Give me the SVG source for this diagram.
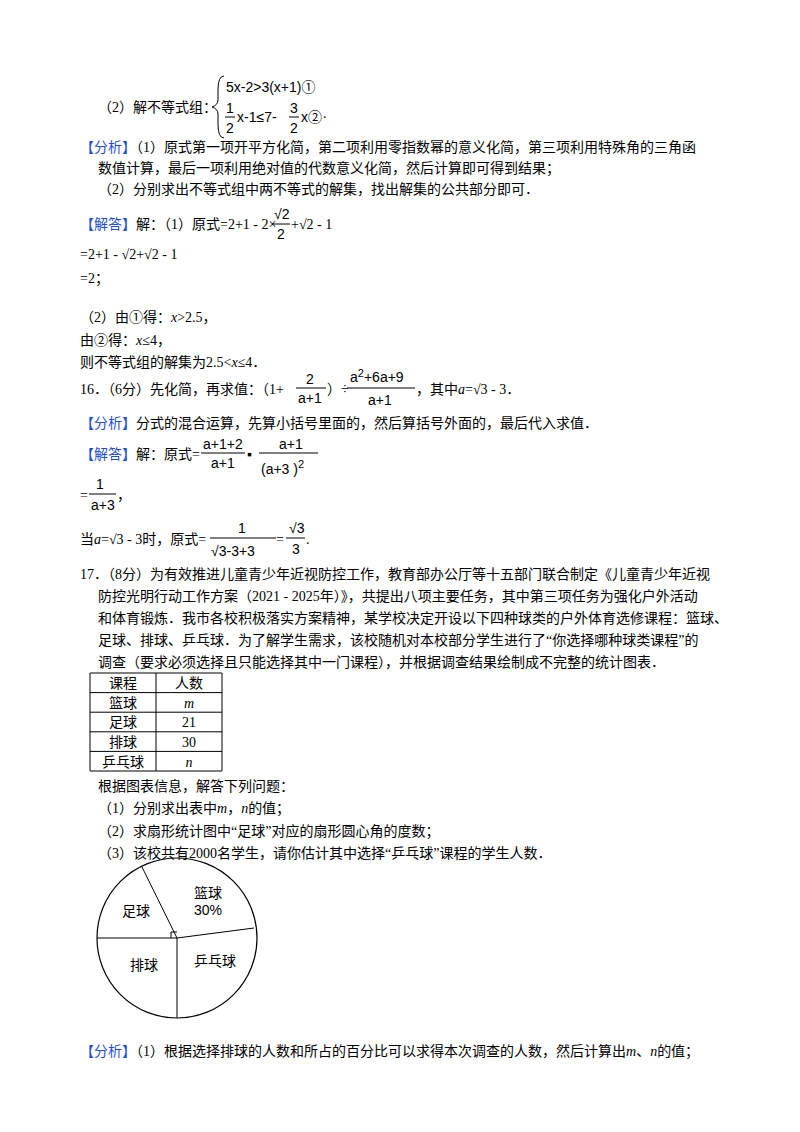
<svg xmlns="http://www.w3.org/2000/svg" width="800" height="1132" viewBox="0 0 800 1132">
<style>
text{font-family:"Liberation Serif","Noto Sans CJK SC",serif;font-size:14px;fill:#000}
.m{font-family:"Liberation Sans","Noto Sans CJK SC",sans-serif;font-size:14px}
.b{fill:#1f4fd6}
.s{font-size:11px}
line,path,polyline{stroke:#000;fill:none;stroke-width:1}
</style>
<rect width="800" height="1132" fill="#fff"/>
<g id="p2">
<text x="98" y="112">（2）解不等式组：</text>
<path d="M224,76 Q218,76 218,90 L218,100 Q218,105 212,107 Q218,109 218,114 L218,124 Q218,138 224,138" stroke-width="1.2"/>
<text x="226" y="92" class="m">5x-2&gt;3(x+1)①</text>
<text x="226" y="113" class="m">1</text><line x1="225" y1="117" x2="235" y2="117"/><text x="226" y="133" class="m">2</text>
<text x="237" y="122" class="m">x-1≤7-</text>
<text x="290" y="113" class="m">3</text><line x1="289" y1="117" x2="299" y2="117"/><text x="290" y="133" class="m">2</text>
<text x="301" y="122" class="m">x②</text><text x="323" y="118">.</text>
</g>
<g id="a1">
<text x="80" y="152"><tspan class="b">【分析】</tspan>（1）原式第一项开平方化简，第二项利用零指数幂的意义化简，第三项利用特殊角的三角函</text>
<text x="98" y="173">数值计算，最后一项利用绝对值的代数意义化简，然后计算即可得到结果；</text>
<text x="98" y="194">（2）分别求出不等式组中两不等式的解集，找出解集的公共部分即可．</text>
<text x="80" y="229"><tspan class="b">【解答】</tspan>解：（1）原式=2+1 - 2×</text>
<text x="274" y="219" class="m">√2</text><line x1="272" y1="224" x2="290" y2="224"/><text x="277" y="239" class="m">2</text>
<text x="291" y="229">+√2 - 1</text>
<text x="80" y="259">=2+1 - √2+√2 - 1</text>
<text x="80" y="283">=2；</text>
<text x="80" y="322">（2）由①得：<tspan font-style="italic">x</tspan>&gt;2.5，</text>
<text x="80" y="345">由②得：<tspan font-style="italic">x</tspan>≤4，</text>
<text x="80" y="367">则不等式组的解集为2.5&lt;<tspan font-style="italic">x</tspan>≤4．</text>
</g>
<g id="q16">
<text x="80" y="394">16．（6分）先化简，再求值：（1+</text>
<text x="306" y="384" class="m">2</text><line x1="296" y1="388" x2="326" y2="388"/><text x="298" y="403" class="m">a+1</text>
<text x="327" y="394">）÷</text>
<text x="350" y="382" class="m">a<tspan dy="-5" class="s">2</tspan><tspan dy="5">+6a+9</tspan></text><line x1="347" y1="388" x2="415" y2="388"/><text x="368" y="405" class="m">a+1</text>
<text x="416" y="394">，其中<tspan font-style="italic">a</tspan>=√3 - 3．</text>
<text x="80" y="428"><tspan class="b">【分析】</tspan>分式的混合运算，先算小括号里面的，然后算括号外面的，最后代入求值．</text>
<text x="80" y="459"><tspan class="b">【解答】</tspan>解：原式=</text>
<text x="203" y="449" class="m">a+1+2</text><line x1="201" y1="453" x2="245" y2="453"/><text x="211" y="468" class="m">a+1</text>
<text x="247" y="459">▪</text>
<text x="279" y="449" class="m">a+1</text><line x1="259" y1="453" x2="318" y2="453"/><text x="261" y="474" class="m">(a+3 )<tspan dy="-6" class="s">2</tspan></text>
<text x="80" y="500">=</text>
<text x="96" y="489" class="m">1</text><line x1="89" y1="494" x2="116" y2="494"/><text x="91" y="510" class="m">a+3</text><text x="117" y="500">，</text>
<text x="80" y="544">当<tspan font-style="italic">a</tspan>=√3 - 3时，原式=</text>
<text x="238" y="533" class="m">1</text><line x1="210" y1="538" x2="276" y2="538"/><text x="211" y="556" class="m">√3-3+3</text>
<text x="276" y="544">=</text>
<text x="289" y="533" class="m">√3</text><line x1="286" y1="538" x2="305" y2="538"/><text x="292" y="554" class="m">3</text><text x="306" y="544">.</text>
</g>
<g id="q17">
<text x="80" y="579">17．（8分）为有效推进儿童青少年近视防控工作，教育部办公厅等十五部门联合制定《儿童青少年近视</text>
<text x="98" y="601">防控光明行动工作方案（2021 - 2025年）》，共提出八项主要任务，其中第三项任务为强化户外活动</text>
<text x="98" y="623">和体育锻炼．我市各校积极落实方案精神，某学校决定开设以下四种球类的户外体育选修课程：篮球、</text>
<text x="98" y="645">足球、排球、乒乓球．为了解学生需求，该校随机对本校部分学生进行了“你选择哪种球类课程”的</text>
<text x="98" y="667">调查（要求必须选择且只能选择其中一门课程），并根据调查结果绘制成不完整的统计图表．</text>
</g>
<g id="table">
<path d="M90,673 H222 V771 H90 Z M90,692.6 H222 M90,712.2 H222 M90,731.8 H222 M90,751.4 H222 M156,673 V771"/>
<text x="123" y="688" text-anchor="middle">课程</text><text x="189" y="688" text-anchor="middle">人数</text>
<text x="123" y="708" text-anchor="middle">篮球</text><text x="189" y="708" text-anchor="middle" font-style="italic">m</text>
<text x="123" y="727" text-anchor="middle">足球</text><text x="189" y="727" text-anchor="middle">21</text>
<text x="123" y="747" text-anchor="middle">排球</text><text x="189" y="747" text-anchor="middle">30</text>
<text x="123" y="767" text-anchor="middle">乒乓球</text><text x="189" y="767" text-anchor="middle" font-style="italic">n</text>
</g>
<g id="qs">
<text x="98" y="791">根据图表信息，解答下列问题：</text>
<text x="98" y="813">（1）分别求出表中<tspan font-style="italic">m</tspan>，<tspan font-style="italic">n</tspan>的值；</text>
<text x="98" y="836">（2）求扇形统计图中“足球”对应的扇形圆心角的度数；</text>
<text x="98" y="858">（3）该校共有2000名学生，请你估计其中选择“乒乓球”课程的学生人数．</text>
</g>
<g id="pie">
<circle cx="177" cy="938" r="80" fill="none" stroke="#000" stroke-width="1.2"/>
<path d="M142,867 L177,938 L254,928 M97,938 H177 V1018 M171,938 V932 H177" stroke-width="1.2"/>
<text x="208" y="898" class="m" text-anchor="middle">篮球</text>
<text x="208" y="915" class="m" text-anchor="middle" fill="#3a6">30%</text>
<text x="136" y="916" class="m" text-anchor="middle">足球</text>
<text x="144" y="970" class="m" text-anchor="middle">排球</text>
<text x="215" y="966" class="m" text-anchor="middle">乒乓球</text>
</g>
<text x="80" y="1056"><tspan class="b">【分析】</tspan>（1）根据选择排球的人数和所占的百分比可以求得本次调查的人数，然后计算出<tspan font-style="italic">m</tspan>、<tspan font-style="italic">n</tspan>的值；</text>
</svg>
